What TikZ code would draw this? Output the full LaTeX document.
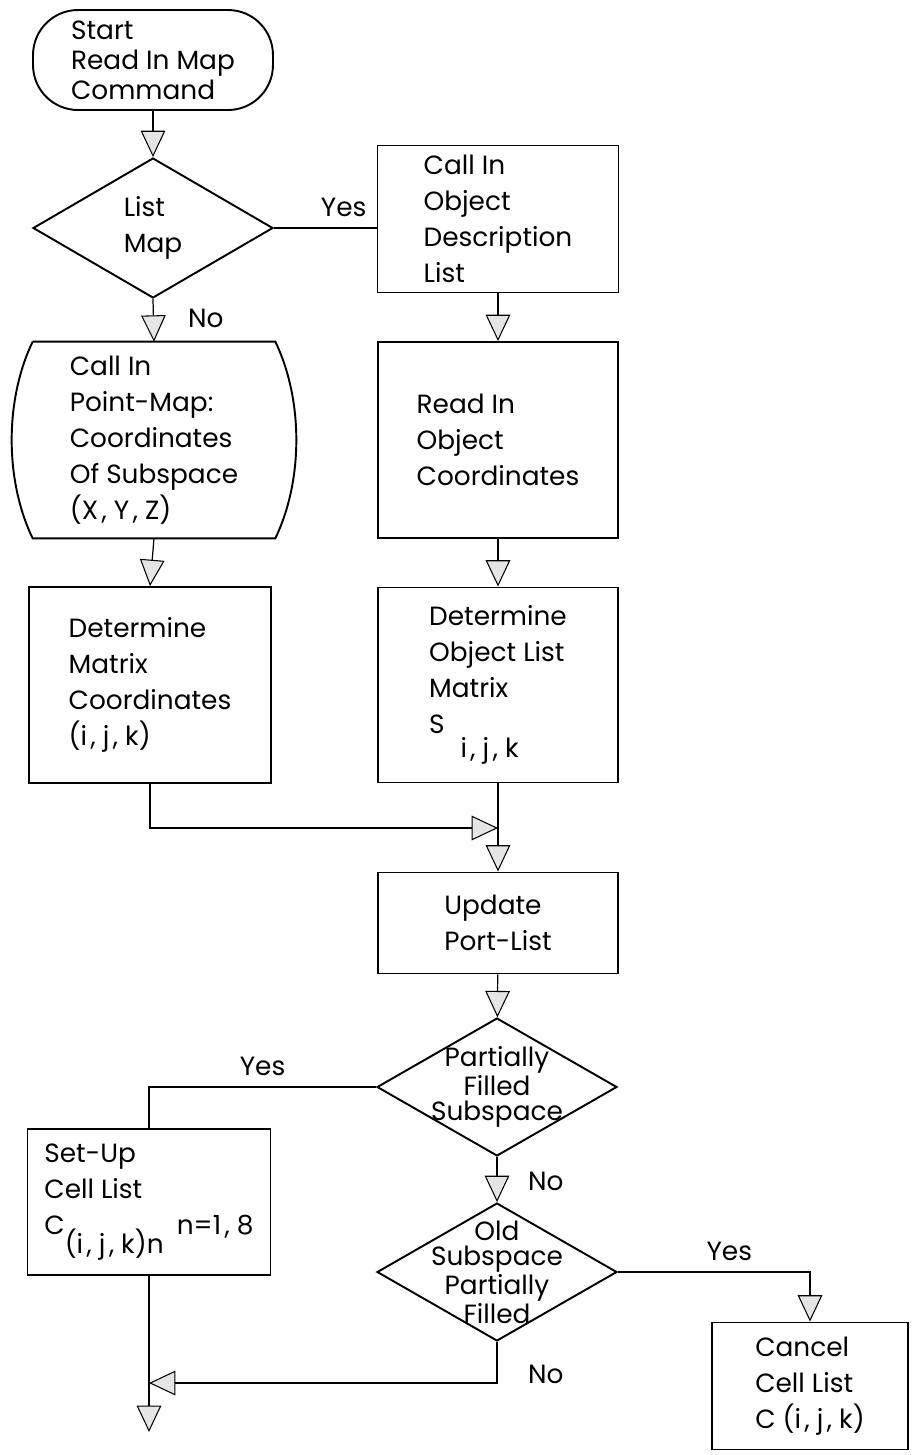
\documentclass[tikz,border=0pt]{standalone}
\usepackage{fontspec}
\setmainfont{Poppins}
\usetikzlibrary{shapes.geometric,arrows.meta}

% wide comma for index lists
\newcommand{\csep}{\kern2pt,\kern4pt}

\tikzset{
    box/.style={draw, line width=1.1pt, align=left, inner sep=0pt},
    decision/.style={draw, diamond, line width=1.1pt, inner sep=0pt,
        minimum width=4.8cm, minimum height=2.76cm},
    question/.style={align=center, inner sep=0pt, font=\fontsize{15}{14.5}\selectfont},
    link/.style={line width=0.7pt},
    flow/.style={line width=0.7pt,
        -{Triangle[length=15pt, width=14pt, fill=gray!20, line width=0.6pt]}}
}

\begin{document}
\begin{tikzpicture}[x=0.02cm, y=-0.02cm, font=\fontsize{15}{20.5}\selectfont]

        \useasboundingbox (0,0) rectangle (913,1455);

        % Left column
        \node[box, rounded corners=0.9cm, minimum width=4.8cm, minimum height=2cm,
            font=\fontsize{15}{17}\selectfont] (start) at (153,60)
            {Start\\Read In Map\\Command};
        \node[decision, minimum height=2.8cm,
            label={[question, align=left, font=\fontsize{15}{20.5}\selectfont]center:List\\Map}]
            (listmap) at (153,228) {};
        \node[align=left, inner sep=0pt, minimum width=4.84cm, minimum height=3.92cm] (pmap) at (154,440)
            {Call In\\Point-Map:\\Coordinates\\Of Subspace\\(X\csep Y\csep Z)};
        \node[box, minimum width=4.84cm, minimum height=3.92cm] (detm) at (150,685)
            {Determine\\Matrix\\Coordinates\\(i\csep j\csep k)};

        % Point-map outline with bulging sides
        \draw[line width=1.1pt] (pmap.north west) -- (pmap.north east)
            .. controls +(28,58) and +(28,-58) .. (pmap.south east) -- (pmap.south west)
            .. controls +(-28,-58) and +(-28,58) .. (pmap.north west);

        % Right column
        \node[box, minimum width=4.82cm, minimum height=2.94cm] (objdesc) at (498,219)
            {Call In\\Object\\Description\\List};
        \node[box, minimum width=4.8cm, minimum height=3.92cm] (readobj) at (498,440)
            {Read In\\Object\\Coordinates};
        \node[box, minimum width=4.8cm, minimum height=3.9cm] (detobj) at (498,685)
            {Determine\\Object List\\Matrix\\S\hspace{0.6em}\raisebox{-0.9em}{i\csep j\csep k}};

        % Lower part
        \node[box, minimum width=4.8cm, minimum height=2.02cm] (update) at (498,923)
            {Update\\Port-List};
        \node[decision, label={[question]center:Partially\\Filled\\Subspace}]
            (partial) at (497,1087) {};
        \node[decision, label={[question]center:Old\\Subspace\\Partially\\Filled}]
            (old) at (497,1272) {};
        \node[box, minimum width=4.86cm, minimum height=2.92cm] (setup) at (149,1202)
            {Set-Up\\Cell List\\C\raisebox{-0.7em}{(i\csep j\csep k)n}\hspace{0.5em}n=1\csep 8};
        \node[box, minimum width=3.92cm, minimum height=2.54cm] (cancel) at (810,1386)
            {Cancel\\Cell List\\C (i\csep j\csep k)};

        % Junction points
        \coordinate (join) at (498,828);
        \coordinate (merge) at (149,1383);
        \coordinate (stop) at (149,1432);

        % Connectors
        \draw[flow] (start) -- (listmap);
        \draw[link] (listmap.east) -- (listmap.east -| objdesc.west)
            node[pos=0.68, above=3pt] {Yes};
        \draw[flow] (listmap.south) -- (pmap.north) node[pos=0.45, right=16pt] {No};
        \draw[flow] (objdesc) -- (readobj);
        \draw[flow] (readobj) -- (detobj);
        \draw[flow] (pmap.south) -- (detm.north);
        \draw[flow] (detm.south) |- (join);
        \draw[flow] (detobj.south) -- (update.north);
        \draw[flow] (update) -- (partial);
        \draw[link] (partial.west) -| (setup.north) node[pos=0.25, above=3pt] {Yes};
        \draw[flow] (partial.south) -- (old.north) node[pos=0.55, right=14pt] {No};
        \draw[flow] (old.east) -| (cancel.north) node[pos=0.29, above=3pt] {Yes};
        \draw[flow] (old.south) |- (merge) node[pos=0.4, right=14pt] {No};
        \draw[flow] (setup.south) -- (stop);

    \end{tikzpicture}
\end{document}
